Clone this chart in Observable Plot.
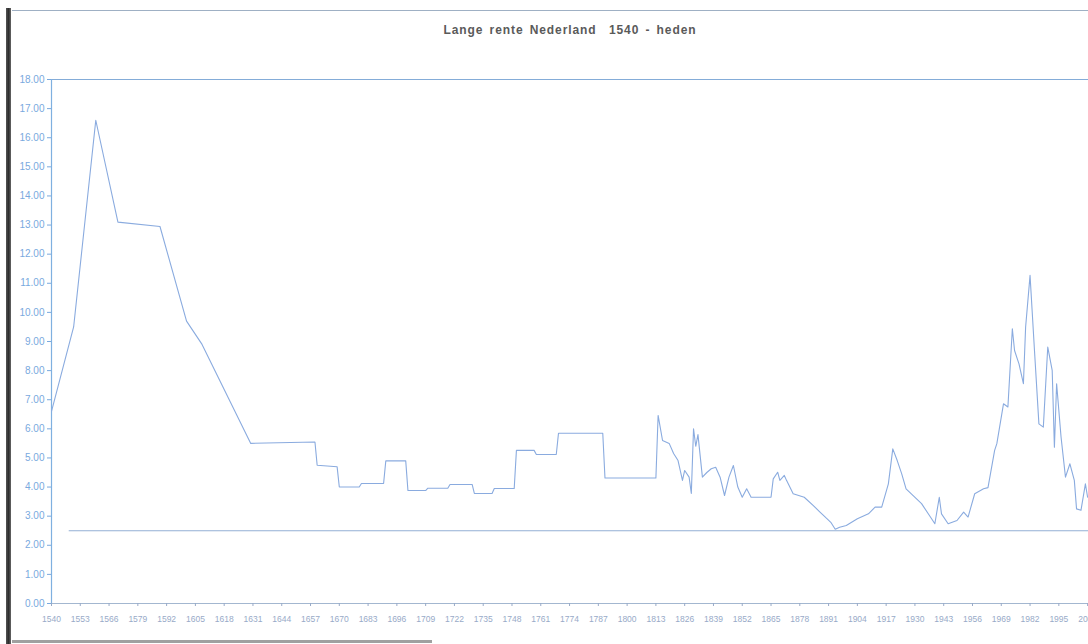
<!DOCTYPE html>
<html>
<head>
<meta charset="utf-8">
<script src="https://cdn.jsdelivr.net/npm/d3@7"></script>
<script src="https://cdn.jsdelivr.net/npm/@observablehq/plot@0.6"></script>
<style>
  html, body { margin: 0; padding: 0; background: #fff; }
  #page { position: relative; width: 1088px; height: 644px; overflow: hidden; background: #fff; font-family: "Liberation Sans", Arial, sans-serif; }
  #title { height: 50px; line-height: 60px; text-align: center; font-size: 12px; font-weight: bold; color: #5a5a5a; letter-spacing: 0.9px; word-spacing: 2px; padding-left: 52px; box-sizing: border-box; }
  #leftbar { position: absolute; left: 6px; top: 8px; width: 5px; height: 636px; background: linear-gradient(to right, #555, #2e2e2e, #666); }
  #topline { position: absolute; left: 12px; top: 10px; width: 1076px; height: 1px; background: #9fb0c4; }
  #bottomline { position: absolute; left: 12px; top: 640px; width: 420px; height: 3px; background: #777; opacity: 0.7; }
  #chart { position: absolute; left: 0; top: 50px; }
</style>
</head>
<body>
<div id="page">
  <div id="title">Lange rente Nederland&nbsp; 1540 - heden</div>
  <div id="chart"></div>
  <div id="leftbar"></div>
  <div id="topline"></div>
  <div id="bottomline"></div>
</div>
<script>
// Long-term interest rate, Netherlands (percent)
const years = [
  1540, 1550, 1560, 1570, 1589, 1601, 1608, 1630, 1659, 1660,
  1669, 1670, 1679, 1680, 1690, 1691, 1700, 1701, 1709, 1710,
  1719, 1720, 1730, 1731, 1739, 1740, 1749, 1750, 1758, 1759,
  1768, 1769, 1789, 1790, 1813, 1814, 1816, 1819, 1821, 1823,
  1825, 1826, 1828, 1829, 1830, 1831, 1832, 1834, 1836, 1838,
  1840, 1842, 1844, 1846, 1848, 1850, 1852, 1854, 1856, 1865,
  1866, 1868, 1869, 1871, 1872, 1875, 1880, 1884, 1887, 1890,
  1892, 1894, 1896, 1899, 1904, 1909, 1912, 1915, 1918, 1920,
  1922, 1924, 1926, 1933, 1937, 1939, 1941, 1942, 1945, 1949,
  1952, 1954, 1957, 1961, 1963, 1966, 1967, 1970, 1972, 1974,
  1975, 1977, 1979, 1980, 1982, 1984, 1986, 1988, 1990, 1992,
  1993, 1994, 1996, 1998, 2000, 2002, 2003, 2005, 2007, 2008
];
const rates = [
  6.6, 9.5, 16.6, 13.1, 12.95, 9.7, 8.9, 5.5, 5.55, 4.75,
  4.7, 4.0, 4.0, 4.12, 4.12, 4.9, 4.9, 3.88, 3.88, 3.96,
  3.96, 4.09, 4.09, 3.78, 3.78, 3.95, 3.95, 5.26, 5.26, 5.12,
  5.12, 5.85, 5.85, 4.31, 4.31, 6.46, 5.6, 5.5, 5.15, 4.91,
  4.23, 4.57, 4.34, 3.78, 6.0, 5.4, 5.8, 4.34, 4.5, 4.63,
  4.68, 4.34, 3.71, 4.34, 4.74, 4.0, 3.65, 3.94, 3.65, 3.65,
  4.28, 4.51, 4.23, 4.4, 4.23, 3.77, 3.65, 3.37, 3.15, 2.93,
  2.79, 2.55, 2.62, 2.68, 2.91, 3.08, 3.31, 3.31, 4.11, 5.31,
  4.91, 4.46, 3.94, 3.43, 2.97, 2.74, 3.65, 3.08, 2.74, 2.85,
  3.14, 2.97, 3.77, 3.94, 3.98, 5.26, 5.49, 6.86, 6.75, 9.44,
  8.69, 8.23, 7.55, 9.5, 11.27, 8.69, 6.17, 6.06, 8.81, 8.01,
  5.37, 7.55, 5.72, 4.34, 4.8, 4.23, 3.25, 3.2, 4.11, 3.65
];
const xTickYears = [1540, 1553, 1566, 1579, 1592, 1605, 1618, 1631, 1644, 1657, 1670, 1683, 1696, 1709, 1722, 1735, 1748, 1761, 1774, 1787, 1800, 1813, 1826, 1839, 1852, 1865, 1878, 1891, 1904, 1917, 1930, 1943, 1956, 1969, 1982, 1995, 2008];
const yTicks = d3.range(0, 19, 1);
const yMax = 18;
const refLineValue = 2.5;
const refLineStart = 1548;
const xEnd = 2008.4;

const data = years.map((y, i) => ({year: y, rate: rates[i]}));

const chart = Plot.plot({
  width: 1088,
  height: 594,
  marginLeft: 51,
  marginRight: 0,
  marginTop: 29,
  marginBottom: 41,
  style: {fontFamily: "'Liberation Sans', Arial, sans-serif", background: "transparent", overflow: "visible"},
  x: {domain: [1540, xEnd], label: null},
  y: {domain: [0, yMax], label: null},
  marks: [
    Plot.ruleY([yMax], {stroke: "#84acd8", strokeWidth: 1.2}),
    Plot.ruleY([refLineValue], {x1: refLineStart, x2: xEnd, stroke: "#93afd4", strokeWidth: 1.1}),
    Plot.ruleY([0], {stroke: "#a3b7d0", strokeWidth: 1}),
    Plot.ruleX([1540], {stroke: "#7fb0e0", strokeWidth: 1.2}),
    Plot.axisY({ticks: yTicks, tickFormat: d3.format(".2f"), tickSize: 4, tickPadding: 3, fontSize: 10, color: "#79a9de", stroke: "#79a9de", label: null}),
    Plot.axisX({ticks: xTickYears, tickFormat: d => String(d), tickSize: 3, tickPadding: 9, fontSize: 8.5, color: "#98aac8", stroke: "#98aac8", label: null}),
    Plot.line(data, {x: "year", y: "rate", stroke: "#8aabdf", strokeWidth: 1.1})
  ]
});
document.getElementById("chart").appendChild(chart);
</script>
</body>
</html>
